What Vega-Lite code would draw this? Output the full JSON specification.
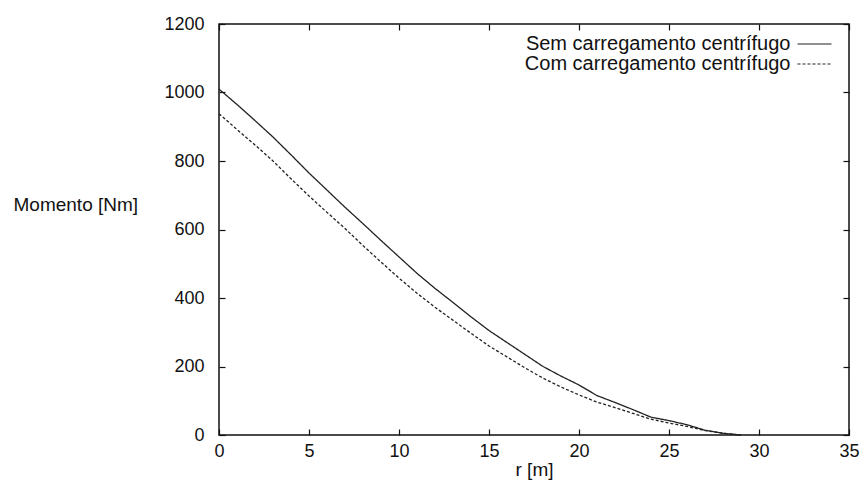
{
  "$schema": "https://vega.github.io/schema/vega-lite/v6.json",
  "width": 630,
  "height": 411,
  "autosize": "none",
  "padding": {"left": 219, "top": 24, "right": 14, "bottom": 45},
  "background": "white",
  "config": {
    "font": "Liberation Sans",
    "view": {"stroke": "#111", "strokeWidth": 1.5},
    "axis": {"grid": false, "domain": false, "labelFlush": false, "tickColor": "#111", "tickWidth": 1.2, "labelColor": "#111", "titleColor": "#111", "labelFontSize": 18, "titleFontSize": 19, "titleFontWeight": "normal", "format": "d"}
  },
  "data": {"values": [
    {"r": 0, "m": 1010, "s": "Sem carregamento centrífugo"},
    {"r": 1, "m": 965, "s": "Sem carregamento centrífugo"},
    {"r": 2, "m": 918, "s": "Sem carregamento centrífugo"},
    {"r": 3, "m": 870, "s": "Sem carregamento centrífugo"},
    {"r": 4, "m": 818, "s": "Sem carregamento centrífugo"},
    {"r": 5, "m": 765, "s": "Sem carregamento centrífugo"},
    {"r": 6, "m": 715, "s": "Sem carregamento centrífugo"},
    {"r": 7, "m": 665, "s": "Sem carregamento centrífugo"},
    {"r": 8, "m": 617, "s": "Sem carregamento centrífugo"},
    {"r": 9, "m": 568, "s": "Sem carregamento centrífugo"},
    {"r": 10, "m": 520, "s": "Sem carregamento centrífugo"},
    {"r": 11, "m": 472, "s": "Sem carregamento centrífugo"},
    {"r": 12, "m": 428, "s": "Sem carregamento centrífugo"},
    {"r": 13, "m": 387, "s": "Sem carregamento centrífugo"},
    {"r": 14, "m": 345, "s": "Sem carregamento centrífugo"},
    {"r": 15, "m": 305, "s": "Sem carregamento centrífugo"},
    {"r": 16, "m": 270, "s": "Sem carregamento centrífugo"},
    {"r": 17, "m": 235, "s": "Sem carregamento centrífugo"},
    {"r": 18, "m": 200, "s": "Sem carregamento centrífugo"},
    {"r": 19, "m": 172, "s": "Sem carregamento centrífugo"},
    {"r": 20, "m": 146, "s": "Sem carregamento centrífugo"},
    {"r": 21, "m": 115, "s": "Sem carregamento centrífugo"},
    {"r": 22, "m": 95, "s": "Sem carregamento centrífugo"},
    {"r": 23, "m": 74, "s": "Sem carregamento centrífugo"},
    {"r": 24, "m": 52, "s": "Sem carregamento centrífugo"},
    {"r": 25, "m": 42, "s": "Sem carregamento centrífugo"},
    {"r": 26, "m": 30, "s": "Sem carregamento centrífugo"},
    {"r": 27, "m": 14, "s": "Sem carregamento centrífugo"},
    {"r": 28, "m": 5, "s": "Sem carregamento centrífugo"},
    {"r": 29, "m": 0, "s": "Sem carregamento centrífugo"},
    {"r": 0, "m": 938, "s": "Com carregamento centrífugo"},
    {"r": 1, "m": 892, "s": "Com carregamento centrífugo"},
    {"r": 2, "m": 847, "s": "Com carregamento centrífugo"},
    {"r": 3, "m": 800, "s": "Com carregamento centrífugo"},
    {"r": 4, "m": 748, "s": "Com carregamento centrífugo"},
    {"r": 5, "m": 698, "s": "Com carregamento centrífugo"},
    {"r": 6, "m": 650, "s": "Com carregamento centrífugo"},
    {"r": 7, "m": 603, "s": "Com carregamento centrífugo"},
    {"r": 8, "m": 553, "s": "Com carregamento centrífugo"},
    {"r": 9, "m": 505, "s": "Com carregamento centrífugo"},
    {"r": 10, "m": 458, "s": "Com carregamento centrífugo"},
    {"r": 11, "m": 414, "s": "Com carregamento centrífugo"},
    {"r": 12, "m": 373, "s": "Com carregamento centrífugo"},
    {"r": 13, "m": 335, "s": "Com carregamento centrífugo"},
    {"r": 14, "m": 297, "s": "Com carregamento centrífugo"},
    {"r": 15, "m": 260, "s": "Com carregamento centrífugo"},
    {"r": 16, "m": 228, "s": "Com carregamento centrífugo"},
    {"r": 17, "m": 196, "s": "Com carregamento centrífugo"},
    {"r": 18, "m": 166, "s": "Com carregamento centrífugo"},
    {"r": 19, "m": 140, "s": "Com carregamento centrífugo"},
    {"r": 20, "m": 117, "s": "Com carregamento centrífugo"},
    {"r": 21, "m": 96, "s": "Com carregamento centrífugo"},
    {"r": 22, "m": 80, "s": "Com carregamento centrífugo"},
    {"r": 23, "m": 63, "s": "Com carregamento centrífugo"},
    {"r": 24, "m": 46, "s": "Com carregamento centrífugo"},
    {"r": 25, "m": 35, "s": "Com carregamento centrífugo"},
    {"r": 26, "m": 25, "s": "Com carregamento centrífugo"},
    {"r": 27, "m": 13, "s": "Com carregamento centrífugo"},
    {"r": 28, "m": 5, "s": "Com carregamento centrífugo"},
    {"r": 29, "m": 0, "s": "Com carregamento centrífugo"}
  ]},
  "layer": [
    {
      "mark": {"type": "line", "stroke": "#222", "strokeWidth": 1.3},
      "encoding": {
        "x": {"field": "r", "type": "quantitative", "scale": {"domain": [0, 35], "nice": false},
              "axis": {"values": [0, 5, 10, 15, 20, 25, 30, 35], "tickSize": -6, "labelPadding": 13, "title": "r [m]", "titleY": 34, "titleBaseline": "middle"}},
        "y": {"field": "m", "type": "quantitative", "scale": {"domain": [0, 1200], "nice": false},
              "axis": {"values": [0, 200, 400, 600, 800, 1000, 1200], "tickSize": -6, "labelPadding": 21, "title": "Momento [Nm]", "titleAngle": 0, "titleAlign": "left", "titleBaseline": "middle", "titleX": -206, "titleY": 180}},
        "strokeDash": {"field": "s", "type": "nominal",
          "scale": {"domain": ["Sem carregamento centrífugo", "Com carregamento centrífugo"], "range": [[1, 0], [3, 2]]},
          "legend": {"orient": "none", "legendX": 585.5, "legendY": 10, "padding": 0, "title": null, "symbolType": "M-2,0H2", "symbolSize": 289, "symbolStrokeColor": "#222", "symbolStrokeWidth": 1.2, "labelAlign": "right", "labelOffset": -34, "labelFontSize": 20, "labelLimit": 400, "labelColor": "#111", "rowPadding": -3.5, "symbolOffset": 0}}
      }
    },
    {
      "mark": {"type": "line", "opacity": 0},
      "encoding": {
        "x": {"field": "r", "type": "quantitative", "scale": {"domain": [0, 35], "nice": false},
              "axis": {"orient": "top", "values": [0, 5, 10, 15, 20, 25, 30, 35], "tickSize": -6, "labels": false, "title": null}},
        "y": {"field": "m", "type": "quantitative", "scale": {"domain": [0, 1200], "nice": false},
              "axis": {"orient": "right", "values": [0, 200, 400, 600, 800, 1000, 1200], "tickSize": -6, "labels": false, "title": null}},
        "detail": {"field": "s"}
      }
    }
  ],
  "resolve": {"axis": {"x": "independent", "y": "independent"}}
}
